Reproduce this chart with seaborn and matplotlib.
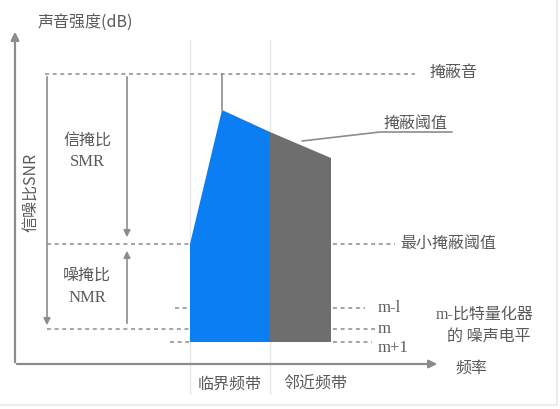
import numpy as np
import matplotlib
matplotlib.use("Agg")
import matplotlib.pyplot as plt
import seaborn as sns

sns.set_theme(style="white")
plt.rcParams['font.family'] = ['Noto Sans CJK SC', 'DejaVu Sans']
plt.rcParams['axes.unicode_minus'] = False

# 频率 / 声音强度 (示意单位)
band_edges = [175, 255, 316]          # 临界频带左、右边界, 邻近频带右边界
curve_x = [175, 207, 255, 316]        # 掩蔽阈值曲线
curve_y = [120, 254, 232, 206]
masker_level = 290                    # 掩蔽音
min_threshold = 120                   # 最小掩蔽阈值
noise_levels = [56, 35, 22]           # m-1, m, m+1
noise_labels = ['m-l', 'm', 'm+1']
band_labels = ['临界频带', '邻近频带']

blue = '#0a7ef2'
gray_fill = '#6e6e6e'
line_c = '#8c8c8c'
text_c = '#5a5a5a'
dash = (0, (2.6, 2.4))
fs = 11.5
serif = ['Liberation Serif', 'Noto Sans CJK SC']

fig = plt.figure(figsize=(5.6, 4.1), dpi=100)
ax = fig.add_axes([0, 0, 1, 1])
ax.set_xlim(-15, 545)
ax.set_ylim(-45, 365)
ax.axis('off')

# 外框 (很淡)
ax.plot([-15, 542, 542], [-41, -41, 365], color='#ececec', lw=1.5)

base = noise_levels[-1]
# 临界频带 (蓝)
bx = [band_edges[0]] + curve_x[:3] + [band_edges[1]]
by = [base] + [min_threshold, curve_y[1], curve_y[2]] + [base]
ax.fill(bx, by, color=blue, lw=0, zorder=2)
# 邻近频带 (灰)
gx = [band_edges[1], band_edges[1], band_edges[2], band_edges[2]]
gy = [base, curve_y[2], curve_y[3], base]
ax.fill(gx, gy, color=gray_fill, lw=0, zorder=2)

# 坐标轴
ax.annotate('', xy=(0, 335), xytext=(0, -1),
            arrowprops=dict(arrowstyle='-|>', color=line_c, lw=1.6, mutation_scale=12))
ax.annotate('', xy=(425, 0), xytext=(-1, 0),
            arrowprops=dict(arrowstyle='-|>', color=line_c, lw=1.6, mutation_scale=12))

# 频带分界虚线
for xe in band_edges[:2]:
    sns.lineplot(x=[xe, xe], y=[-30, 325], ax=ax, color=line_c, lw=1.1, linestyle=dash, zorder=1)

# 水平虚线
sns.lineplot(x=[30, 400], y=[masker_level, masker_level], ax=ax, color=line_c, lw=1.1, linestyle=dash)
for x0, x1, lv in [(32, band_edges[0], min_threshold), (318, 380, min_threshold),
                   (32, band_edges[0], noise_levels[1]), (318, 360, noise_levels[1]),
                   (160, band_edges[0], noise_levels[0]), (318, 350, noise_levels[0]),
                   (155, band_edges[0], noise_levels[2]), (318, 357, noise_levels[2])]:
    sns.lineplot(x=[x0, x1], y=[lv, lv], ax=ax, color=line_c, lw=1.1, linestyle=dash)

# 峰值到掩蔽音的竖线
ax.plot([curve_x[1], curve_x[1]], [curve_y[1], masker_level], color=line_c, lw=1.2)

# SNR / SMR / NMR 箭头
arrow_kw = dict(arrowstyle='-|>', color=line_c, lw=1.2, mutation_scale=10)
ax.annotate('', xy=(32, noise_levels[1] + 1), xytext=(32, masker_level), arrowprops=arrow_kw)
ax.annotate('', xy=(112, min_threshold + 4), xytext=(112, masker_level), arrowprops=arrow_kw)
ax.annotate('', xy=(112, min_threshold - 4), xytext=(112, noise_levels[1] + 3), arrowprops=arrow_kw)

# 掩蔽阈值引线
ax.plot([287, 365, 437], [223, 232, 232], color=line_c, lw=1.2)

# 文字
ax.text(23, 343, '声音强度(dB)', color=text_c, fontsize=fs, ha='left', va='center')
ax.text(415, 293, '掩蔽音', color=text_c, fontsize=fs, ha='left', va='center')
ax.text(401, 233, '掩蔽阈值', color=text_c, fontsize=fs, ha='center', va='bottom')
ax.text(385, 122, '最小掩蔽阈值', color=text_c, fontsize=fs, ha='left', va='center')
for lv, lab, off in zip(noise_levels, noise_labels, [1, 1, -5]):
    ax.text(363, lv + off, lab, color=text_c, fontsize=fs + 0.5, ha='left', va='center', family=serif)
ax.text(470, 50, 'm-比特量化器', color=text_c, fontsize=fs, ha='center', va='center', family=serif)
ax.text(474, 28, '的 噪声电平', color=text_c, fontsize=fs, ha='center', va='center')
ax.text(440, -3, '频率', color=text_c, fontsize=fs, ha='left', va='center')
ax.text(215, -19, band_labels[0], color=text_c, fontsize=fs, ha='center', va='center')
ax.text(300, -19, band_labels[1], color=text_c, fontsize=fs, ha='center', va='center')
ax.text(16, 173, '信噪比SNR', color=text_c, fontsize=fs, ha='center', va='center', rotation=90)
ax.text(72, 225, '信掩比', color=text_c, fontsize=fs, ha='center', va='center')
ax.text(72, 203, 'SMR', color=text_c, fontsize=fs + 0.5, ha='center', va='center', family=serif)
ax.text(72, 90, '噪掩比', color=text_c, fontsize=fs, ha='center', va='center')
ax.text(72, 67, 'NMR', color=text_c, fontsize=fs + 0.5, ha='center', va='center', family=serif)

fig.savefig('out.png', dpi=100)
